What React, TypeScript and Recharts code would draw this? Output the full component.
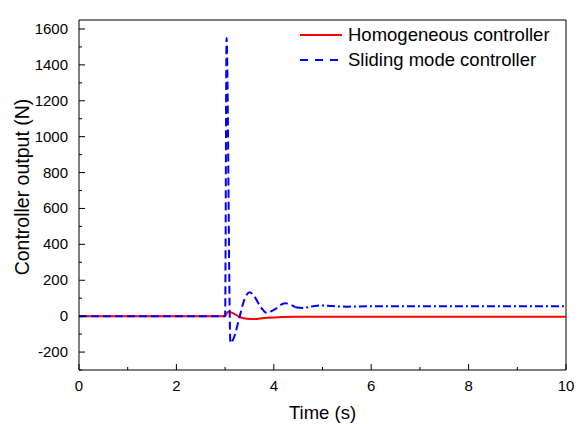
import { LineChart, Line, XAxis, YAxis, ReferenceLine, Legend } from 'recharts'

const FONT = '"Liberation Sans", Arial, sans-serif'

// time axis (s) and controller outputs (N)
const hcTime = [0, 3.0, 3.06, 3.15, 3.3, 3.45, 3.6, 3.8, 4.0, 4.4, 5, 10]
const hcValue = [0, 0, 25, 18, -5, -15, -16, -10, -7, -4, -3, -3]

const smTime = [0, 3.0, 3.03, 3.11, 3.18, 3.3, 3.4, 3.5, 3.6, 3.72, 3.86, 4.0, 4.23, 4.44, 4.6, 4.8, 4.95, 5.2, 5.5, 6, 7, 8, 9, 10]
const smValue = [0, 0, 1550, -150, -120, 0, 95, 133, 110, 55, 18, 35, 72, 50, 46, 55, 60, 56, 53, 55, 55, 55, 55, 55]
const smSplit = 13

const xTicks = [0, 1, 2, 3, 4, 5, 6, 7, 8, 9, 10]
const yTicks = [-300, -200, -100, 0, 100, 200, 300, 400, 500, 600, 700, 800, 900, 1000, 1100, 1200, 1300, 1400, 1500, 1600]

const seriesNames = ['Homogeneous controller', 'Sliding mode controller']

const toRows = (ts: number[], vs: number[]) => ts.map((t, i) => ({ t, v: vs[i] }))

const hcData = toRows(hcTime, hcValue)
const smData = toRows(smTime, smValue)
const smHead = smData.slice(0, smSplit + 1)
const smTail = smData.slice(smSplit)

const YTick = (props: any) => {
  const { x, y, payload } = props
  const major = payload.value % 200 === 0
  return (
    <g>
      <line x1={x} x2={x + (major ? 6 : 3)} y1={y} y2={y} stroke="#000" />
      {major && (
        <text x={x - 11} y={y} dy={5} textAnchor="end" fontSize={15} fontFamily={FONT} fill="#000">
          {payload.value}
        </text>
      )}
    </g>
  )
}

const XTick = (props: any) => {
  const { x, y, payload } = props
  const major = payload.value % 2 === 0
  return (
    <g>
      <line x1={x} x2={x} y1={y} y2={y - (major ? 6 : 3)} stroke="#000" />
      {major && (
        <text x={x} y={y + 21} textAnchor="middle" fontSize={15} fontFamily={FONT} fill="#000">
          {payload.value}
        </text>
      )}
    </g>
  )
}

const YLabel = (props: any) => {
  const cx = 22
  const cy = props.viewBox.y + props.viewBox.height / 2 - 8
  return (
    <text
      x={cx}
      y={cy}
      transform={`rotate(-90 ${cx} ${cy})`}
      textAnchor="middle"
      dominantBaseline="central"
      fontSize={19.5}
      fontFamily={FONT}
      fill="#000"
    >
      Controller output (N)
    </text>
  )
}

const LegendBox = () => (
  <svg width={270} height={50} style={{ display: 'block' }}>
    <line x1={5} x2={47} y1={15} y2={15} stroke="#ff0000" strokeWidth={2} />
    <text x={53} y={21} fontSize={18.5} fontFamily={FONT} fill="#000">{seriesNames[0]}</text>
    <line x1={5} x2={47} y1={40} y2={40} stroke="#0000ff" strokeWidth={2} strokeDasharray="8 7" />
    <text x={53} y={46} fontSize={18.5} fontFamily={FONT} fill="#000">{seriesNames[1]}</text>
  </svg>
)

export default function App() {
  return (
    <div style={{ position: 'absolute', left: 0, top: 0, background: '#fff' }}>
      <LineChart width={584} height={424} margin={{ top: 20, right: 18, left: 0, bottom: 0 }}>
        <XAxis
          dataKey="t"
          type="number"
          domain={[0, 10]}
          ticks={xTicks}
          interval={0}
          tickSize={0}
          tickMargin={0}
          tickLine={false}
          tick={<XTick />}
          axisLine={{ stroke: '#000' }}
          height={54}
          allowDuplicatedCategory={false}
          label={{
            value: 'Time (s)',
            position: 'insideBottom',
            offset: 5,
            style: { fontSize: 18.5, fontFamily: FONT, fill: '#000' },
          }}
        />
        <YAxis
          type="number"
          domain={[-300, 1650]}
          ticks={yTicks}
          interval={0}
          tickSize={0}
          tickMargin={0}
          tickLine={false}
          tick={<YTick />}
          axisLine={{ stroke: '#000' }}
          width={79}
          label={<YLabel />}
        />
        <ReferenceLine y={1650} stroke="#000" />
        <ReferenceLine x={10} stroke="#000" />
        <Legend
          layout="vertical"
          align="center"
          verticalAlign="middle"
          wrapperStyle={{ top: 20, left: 295, width: 270 }}
          content={<LegendBox />}
        />
        <Line
          data={hcData}
          dataKey="v"
          name={seriesNames[0]}
          type="monotone"
          stroke="#ff0000"
          strokeWidth={2}
          dot={false}
          isAnimationActive={false}
        />
        <Line
          data={smHead}
          dataKey="v"
          name={seriesNames[1]}
          type="monotone"
          stroke="#0000ff"
          strokeWidth={2}
          strokeDasharray="8 4"
          dot={false}
          isAnimationActive={false}
        />
        <Line
          data={smTail}
          dataKey="v"
          name={seriesNames[1] + ' tail'}
          type="monotone"
          stroke="#0000ff"
          strokeWidth={2}
          strokeDasharray="8 3 2 3"
          dot={false}
          legendType="none"
          isAnimationActive={false}
        />
      </LineChart>
    </div>
  )
}
